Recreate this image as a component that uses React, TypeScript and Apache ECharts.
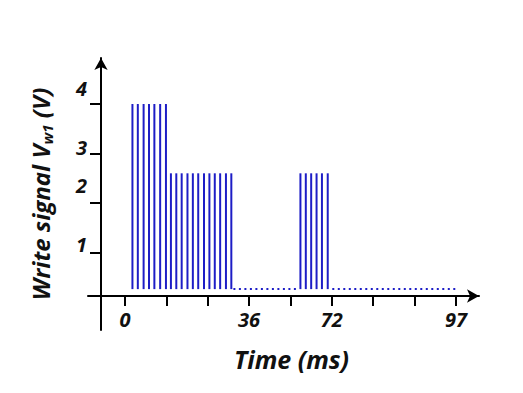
import React, { useEffect, useRef } from 'react';
import * as echarts from 'echarts';

// Time axis: tick index positions and their labels (ms)
const xTickPositions = [0, 1, 2, 3, 4, 5, 6, 7, 8];
const xLabelPositions = [0, 3, 5, 8];
const xLabelTexts = ['0', '36', '72', '97'];

// Voltage axis ticks
const yTickValues = [1, 2, 3, 4];

// Pulse positions (in tick units) and their levels (V)
const pulsesHigh = [0.18, 0.31, 0.45, 0.58, 0.71, 0.85, 0.99];
const levelHigh = 4.0;
const pulsesMid = [1.11, 1.24, 1.37, 1.51, 1.64, 1.77, 1.91, 2.04, 2.17, 2.3, 2.44, 2.57];
const levelMid = 2.6;
const pulsesLate = [4.24, 4.37, 4.5, 4.63, 4.76, 4.9];
const levelLate = 2.6;
const baseLevel = 0.26;

// Idle (dotted) segments
const idleStarts = [2.62, 5.01];
const idleEnds = [4.19, 8.04];

const BLUE = '#1d1dc6';
const FONT = 'Open Sans';

export default function App() {
  const ref = useRef<HTMLDivElement>(null);
  useEffect(() => {
    document.body.style.margin = '0';
    const chart = echarts.init(ref.current!, null, { renderer: 'svg' });

    const pulseData = [
      ...pulsesHigh.map((x) => [x, levelHigh]),
      ...pulsesMid.map((x) => [x, levelMid]),
      ...pulsesLate.map((x) => [x, levelLate]),
    ];

    const idleSeries = idleStarts.map((s, i) => ({
      type: 'line',
      data: [
        [s, baseLevel],
        [idleEnds[i], baseLevel],
      ],
      symbol: 'none',
      silent: true,
      lineStyle: { color: BLUE, width: 2, type: [2, 3.5] },
    }));

    const yOffsets: Record<number, number> = { 1: 15, 2: 36, 3: 13, 4: 32 };
    const labelFont = {
      fontFamily: FONT,
      fontStyle: 'italic',
      fontWeight: 'bold',
      fontSize: 20,
      color: '#111',
    };

    chart.setOption({
      animation: false,
      backgroundColor: '#ffffff',
      grid: { left: 88, right: 44, top: 58, bottom: 63, containLabel: false },
      xAxis: {
        type: 'value',
        min: -0.894,
        max: 8.556,
        offset: -34,
        name: 'Time (ms)',
        nameLocation: 'middle',
        nameGap: 50,
        nameTextStyle: {
          fontFamily: FONT,
          fontStyle: 'italic',
          fontWeight: 'bold',
          fontSize: 25,
          color: '#111',
          padding: [0, 0, 0, 16],
        },
        axisLine: {
          onZero: false,
          symbol: ['none', 'arrow'],
          symbolSize: [10, 12],
          lineStyle: { color: '#000', width: 2 },
        },
        axisTick: {
          show: true,
          customValues: xTickPositions,
          length: 10,
          lineStyle: { color: '#000', width: 2 },
        },
        axisLabel: {
          customValues: xLabelPositions,
          formatter: (v: number) => {
            const i = xLabelPositions.indexOf(Math.round(v));
            return i >= 0 ? xLabelTexts[i] : '';
          },
          margin: 13,
          ...labelFont,
        },
        splitLine: { show: false },
      },
      yAxis: {
        type: 'value',
        min: -0.566,
        max: 4.93,
        offset: -13,
        name: 'Write signal V{sub|w1} (V)',
        nameLocation: 'middle',
        nameRotate: 90,
        nameGap: 47,
        nameTextStyle: {
          fontFamily: FONT,
          fontStyle: 'italic',
          fontWeight: 'bold',
          fontSize: 24,
          color: '#111',
          rich: {
            sub: {
              fontFamily: FONT,
              fontStyle: 'italic',
              fontWeight: 'bold',
              fontSize: 15,
              color: '#111',
              padding: [12, 0, 0, 0],
            },
          },
        },
        axisLine: {
          onZero: false,
          symbol: ['none', 'arrow'],
          symbolSize: [10, 12],
          lineStyle: { color: '#000', width: 2 },
        },
        axisTick: {
          show: true,
          customValues: yTickValues,
          length: 11,
          lineStyle: { color: '#000', width: 2 },
        },
        axisLabel: {
          customValues: yTickValues,
          formatter: (v: number) => `{l${v}|${v}}`,
          margin: 14,
          ...labelFont,
          rich: Object.fromEntries(
            yTickValues.map((v) => [
              `l${v}`,
              { ...labelFont, padding: [0, 0, yOffsets[v], 0] },
            ])
          ),
        },
        splitLine: { show: false },
      },
      series: [
        {
          type: 'custom',
          data: pulseData,
          encode: { x: 0, y: 1 },
          silent: true,
          renderItem: (_params: any, api: any) => {
            const x = api.value(0);
            const top = api.value(1);
            const p1 = api.coord([x, baseLevel]);
            const p2 = api.coord([x, top]);
            return {
              type: 'line',
              shape: { x1: p1[0], y1: p1[1], x2: p2[0], y2: p2[1] },
              style: { stroke: BLUE, lineWidth: 2 },
            };
          },
        },
        ...idleSeries,
      ],
    });
    return () => chart.dispose();
  }, []);
  return <div ref={ref} style={{ width: 523, height: 393 }} />;
}
